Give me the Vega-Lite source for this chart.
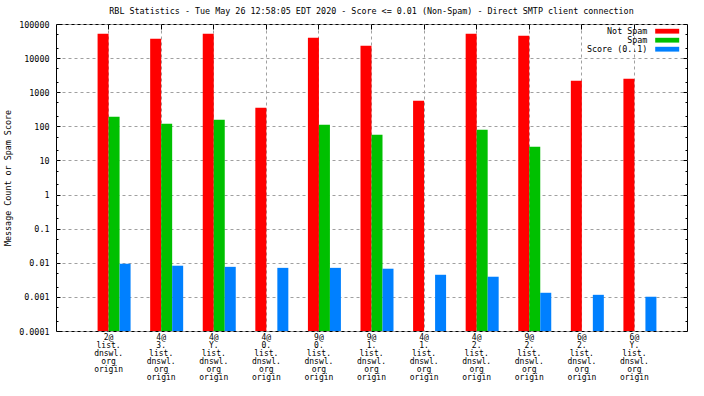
{
  "$schema": "https://vega.github.io/schema/vega-lite/v6.json",
  "width": 631,
  "height": 307,
  "autosize": "none",
  "padding": {"left": 56, "top": 24, "right": 17, "bottom": 65},
  "background": "white",
  "config": {
    "font": "DejaVu Sans Mono",
    "view": {"stroke": "black", "strokeWidth": 1},
    "axis": {
      "labelFont": "DejaVu Sans Mono",
      "labelFontSize": 8.4,
      "labelColor": "black",
      "titleFont": "DejaVu Sans Mono",
      "titleFontSize": 8.4,
      "titleFontWeight": "normal",
      "titleColor": "black",
      "tickColor": "black",
      "domain": false,
      "gridColor": "#a0a0a0",
      "gridDash": [3, 3],
      "gridOpacity": 1
    },
    "legend": {
      "labelFont": "DejaVu Sans Mono",
      "labelFontSize": 8.4,
      "labelColor": "black"
    },
    "title": {
      "font": "DejaVu Sans Mono",
      "fontSize": 8.4,
      "fontWeight": "normal",
      "color": "black"
    }
  },
  "title": {
    "text": "RBL Statistics - Tue May 26 12:58:05 EDT 2020 - Score <= 0.01 (Non-Spam) - Direct SMTP client connection",
    "anchor": "middle",
    "offset": 5
  },
  "data": {
    "values": [
      {"cat": "2@list.dnswl.org origin", "series": "Not Spam", "value": 52000},
      {"cat": "2@list.dnswl.org origin", "series": "Spam", "value": 190},
      {"cat": "2@list.dnswl.org origin", "series": "Score (0..1)", "value": 0.0093},
      {"cat": "4@3.list.dnswl.org origin", "series": "Not Spam", "value": 37000},
      {"cat": "4@3.list.dnswl.org origin", "series": "Spam", "value": 119},
      {"cat": "4@3.list.dnswl.org origin", "series": "Score (0..1)", "value": 0.0082},
      {"cat": "4@Y.list.dnswl.org origin", "series": "Not Spam", "value": 52000},
      {"cat": "4@Y.list.dnswl.org origin", "series": "Spam", "value": 156},
      {"cat": "4@Y.list.dnswl.org origin", "series": "Score (0..1)", "value": 0.0076},
      {"cat": "4@0.list.dnswl.org origin", "series": "Not Spam", "value": 350},
      {"cat": "4@0.list.dnswl.org origin", "series": "Score (0..1)", "value": 0.0071},
      {"cat": "9@0.list.dnswl.org origin", "series": "Not Spam", "value": 39600},
      {"cat": "9@0.list.dnswl.org origin", "series": "Spam", "value": 111},
      {"cat": "9@0.list.dnswl.org origin", "series": "Score (0..1)", "value": 0.0071},
      {"cat": "9@1.list.dnswl.org origin", "series": "Not Spam", "value": 23100},
      {"cat": "9@1.list.dnswl.org origin", "series": "Spam", "value": 57},
      {"cat": "9@1.list.dnswl.org origin", "series": "Score (0..1)", "value": 0.0067},
      {"cat": "4@1.list.dnswl.org origin", "series": "Not Spam", "value": 563},
      {"cat": "4@1.list.dnswl.org origin", "series": "Score (0..1)", "value": 0.00445},
      {"cat": "4@2.list.dnswl.org origin", "series": "Not Spam", "value": 52000},
      {"cat": "4@2.list.dnswl.org origin", "series": "Spam", "value": 79},
      {"cat": "4@2.list.dnswl.org origin", "series": "Score (0..1)", "value": 0.0039},
      {"cat": "9@2.list.dnswl.org origin", "series": "Not Spam", "value": 45400},
      {"cat": "9@2.list.dnswl.org origin", "series": "Spam", "value": 25},
      {"cat": "9@2.list.dnswl.org origin", "series": "Score (0..1)", "value": 0.00132},
      {"cat": "6@2.list.dnswl.org origin", "series": "Not Spam", "value": 2170},
      {"cat": "6@2.list.dnswl.org origin", "series": "Score (0..1)", "value": 0.00115},
      {"cat": "6@Y.list.dnswl.org origin", "series": "Not Spam", "value": 2490},
      {"cat": "6@Y.list.dnswl.org origin", "series": "Score (0..1)", "value": 0.00101}
    ]
  },
  "resolve": {"axis": {"x": "independent", "y": "independent"}},
  "layer": [
    {
      "mark": {"type": "bar"},
      "encoding": {
        "x": {
          "field": "cat", "type": "nominal", "sort": null,
          "scale": {"paddingInner": 0.1632, "paddingOuter": 0.5816},
          "axis": {
            "orient": "bottom", "title": null, "labelAngle": 0,
            "grid": true, "ticks": false, "labelPadding": 2,
            "labelFontSize": 8, "labelLineHeight": 8, "bandPosition": 0.5,
            "labelExpr": "split(replace(replace(datum.label, /([@.])/g, '$1|'), / /g, '|'), '|')"
          }
        },
        "xOffset": {
          "field": "series", "type": "nominal",
          "scale": {"domain": ["_pad", "Not Spam", "Spam", "Score (0..1)"], "paddingInner": 0, "paddingOuter": 0}
        },
        "y": {
          "field": "value", "type": "quantitative",
          "scale": {"type": "log", "domain": [0.0001, 100000], "nice": false},
          "axis": {
            "orient": "left", "title": "Message Count or Spam Score",
            "values": [0.0001, 0.001, 0.01, 0.1, 1, 10, 100, 1000, 10000, 100000],
            "labelExpr": "'' + datum.value",
            "grid": true, "tickSize": -4, "labelPadding": 11, "titlePadding": 6
          }
        },
        "y2": {"datum": 0.0001},
        "color": {
          "field": "series", "type": "nominal",
          "scale": {"domain": ["Not Spam", "Spam", "Score (0..1)"], "range": ["#ff0000", "#00c000", "#0080ff"]},
          "legend": {
            "title": null, "orient": "none", "legendX": 607, "legendY": 3,
            "padding": 0, "rowPadding": 0,
            "symbolType": "M-3,-0.6H3V0.6H-3Z", "symbolSize": 64,
            "symbolStrokeWidth": 0, "symbolOpacity": 1,
            "labelAlign": "right", "labelOffset": -24
          }
        }
      }
    },
    {
      "mark": {"type": "bar", "opacity": 0},
      "encoding": {
        "x": {
          "field": "cat", "type": "nominal", "sort": null,
          "axis": {"orient": "top", "title": null, "labels": false, "grid": false, "tickSize": -5, "bandPosition": 0.5}
        },
        "y": {
          "field": "value", "type": "quantitative",
          "scale": {"type": "log", "domain": [0.0001, 100000], "nice": false},
          "axis": {"orient": "right", "title": null, "labels": false, "grid": false, "tickSize": -4,
            "values": [0.0001, 0.001, 0.01, 0.1, 1, 10, 100, 1000, 10000, 100000]}
        },
        "y2": {"datum": 0.0001}
      }
    },
    {
      "mark": {"type": "bar", "opacity": 0},
      "encoding": {
        "x": {"field": "cat", "type": "nominal", "sort": null, "axis": null},
        "y": {
          "field": "value", "type": "quantitative",
          "scale": {"type": "log", "domain": [0.0001, 100000], "nice": false},
          "axis": {"orient": "left", "title": null, "labels": false, "grid": false, "tickSize": -2,
            "values": [0.0002, 0.0005, 0.002, 0.005, 0.02, 0.05, 0.2, 0.5, 2, 5, 20, 50, 200, 500, 2000, 5000, 20000, 50000]}
        },
        "y2": {"datum": 0.0001}
      }
    },
    {
      "mark": {"type": "bar", "opacity": 0},
      "encoding": {
        "x": {"field": "cat", "type": "nominal", "sort": null, "axis": null},
        "y": {
          "field": "value", "type": "quantitative",
          "scale": {"type": "log", "domain": [0.0001, 100000], "nice": false},
          "axis": {"orient": "right", "title": null, "labels": false, "grid": false, "tickSize": -2,
            "values": [0.0002, 0.0005, 0.002, 0.005, 0.02, 0.05, 0.2, 0.5, 2, 5, 20, 50, 200, 500, 2000, 5000, 20000, 50000]}
        },
        "y2": {"datum": 0.0001}
      }
    }
  ]
}
